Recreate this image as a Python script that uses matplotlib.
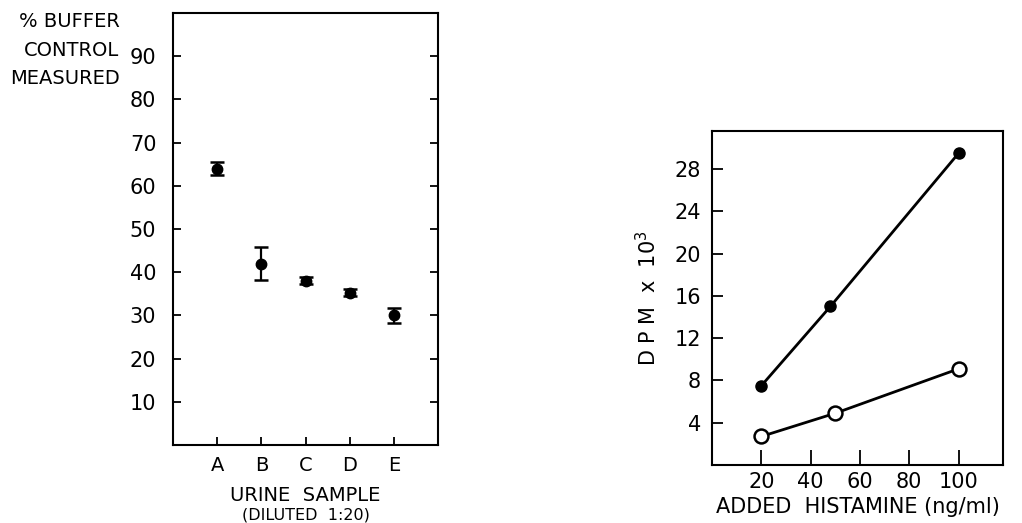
import matplotlib
matplotlib.use("Agg")
import matplotlib.pyplot as plt

# left panel: urine samples
samples = ['A', 'B', 'C', 'D', 'E']
pct_measured = [64, 42, 38, 35.3, 30]
pct_err = [1.5, 3.8, 0.8, 0.8, 1.7]

# right panel: added histamine
histamine = [20, 48, 100]
dpm_filled = [7.5, 15.0, 29.5]
histamine_open = [20, 50, 100]
dpm_open = [2.7, 4.9, 9.1]

plt.rcParams['font.family'] = ['DejaVu Sans']
fig = plt.figure(figsize=(10.22, 5.23), dpi=100)

# ---- left panel ----
ax1 = fig.add_axes([0.1693, 0.1491, 0.2593, 0.826])
xpos = list(range(1, len(samples) + 1))
ax1.errorbar(xpos, pct_measured, yerr=pct_err, fmt='o', color='black',
             markersize=7.5, capsize=5, elinewidth=1.6, capthick=1.8)
ax1.set_xlim(0, 6)
ax1.set_ylim(0, 100)
ax1.set_xticks(xpos)
ax1.set_xticklabels(samples)
ax1.set_yticks(range(10, 100, 10))
ax1.tick_params(axis='y', direction='in', length=6, width=1.3, pad=12,
                labelsize=15, right=True)
ax1.tick_params(axis='x', direction='in', length=6, width=1.3, pad=8,
                labelsize=14)
for s in ax1.spines.values():
    s.set_linewidth(1.5)
fig.text(0.117, 0.958, '% BUFFER', ha='right', va='center', fontsize=14)
fig.text(0.117, 0.903, 'CONTROL', ha='right', va='center', fontsize=14)
fig.text(0.117, 0.849, 'MEASURED', ha='right', va='center', fontsize=14)
fig.text(0.299, 0.053, 'URINE  SAMPLE', ha='center', va='center', fontsize=14)
fig.text(0.299, 0.015, '(DILUTED  1:20)', ha='center', va='center', fontsize=11.5)

# ---- right panel ----
ax2 = fig.add_axes([0.6967, 0.1109, 0.2847, 0.6386])
ax2.plot(histamine, dpm_filled, '-o', color='black', linewidth=2,
         markersize=8)
ax2.plot(histamine_open, dpm_open, '-o', color='black', linewidth=2,
         markersize=10, markerfacecolor='white', markeredgewidth=1.8)
ax2.set_xlim(0, 118)
ax2.set_ylim(0, 31.6)
ax2.set_xticks([20, 40, 60, 80, 100])
ax2.set_yticks([4, 8, 12, 16, 20, 24, 28])
ax2.tick_params(axis='x', direction='in', length=11, width=1.3, pad=5,
                labelsize=15)
ax2.tick_params(axis='y', direction='in', length=8, width=1.3, pad=8,
                labelsize=15)
for s in ax2.spines.values():
    s.set_linewidth(1.5)
ax2.set_xlabel('ADDED  HISTAMINE (ng/ml)', fontsize=15, labelpad=4)
ax2.set_ylabel('D P M  x  10$^3$', fontsize=15, labelpad=10)

fig.savefig('out.png', dpi=100)
